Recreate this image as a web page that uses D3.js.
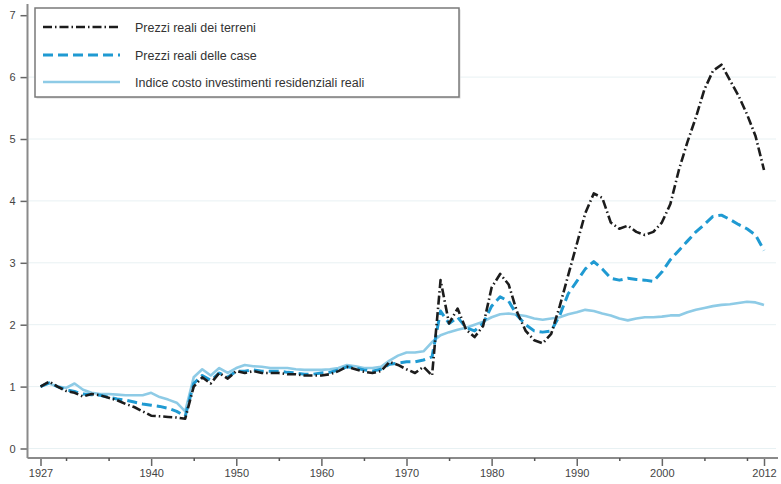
<!DOCTYPE html>
<html>
<head>
<meta charset="utf-8">
<script src="https://cdn.jsdelivr.net/npm/d3@7"></script>
<style>
  body { margin: 0; background: #fff; }
  svg { display: block; font-family: "Liberation Sans", Arial, sans-serif; }
</style>
</head>
<body>
<div id="chart"></div>
<script>
// Years 1927-2012, one value per year
const years = d3.range(1927, 2013);

// Prezzi reali dei terreni
const landPrices = [
  1.00, 1.08, 1.00, 0.93, 0.90, 0.84, 0.88, 0.86, 0.82, 0.78,
  0.72, 0.67, 0.60, 0.53, 0.52, 0.51, 0.50, 0.48, 1.00, 1.15,
  1.05, 1.22, 1.13, 1.25, 1.22, 1.25, 1.22, 1.22, 1.22, 1.20,
  1.20, 1.18, 1.18, 1.18, 1.20, 1.25, 1.32, 1.28, 1.24, 1.22,
  1.25, 1.40, 1.35, 1.28, 1.22, 1.32, 1.18, 2.72, 2.02, 2.26,
  1.92, 1.80, 1.98, 2.60, 2.82, 2.65, 2.20, 1.90, 1.75, 1.70,
  1.85, 2.30, 2.80, 3.30, 3.80, 4.12, 4.05, 3.65, 3.55, 3.60,
  3.50, 3.45, 3.50, 3.65, 3.95, 4.50, 4.95, 5.35, 5.80, 6.10,
  6.20, 5.95, 5.70, 5.40, 5.05, 4.50
];

// Prezzi reali delle case
const housePrices = [
  1.00, 1.06, 1.00, 0.95, 0.92, 0.88, 0.87, 0.86, 0.83, 0.80,
  0.78, 0.75, 0.72, 0.70, 0.68, 0.65, 0.60, 0.52, 1.05, 1.18,
  1.10, 1.22, 1.15, 1.25, 1.25, 1.27, 1.25, 1.25, 1.25, 1.23,
  1.22, 1.20, 1.20, 1.22, 1.23, 1.27, 1.32, 1.30, 1.27, 1.25,
  1.28, 1.36, 1.38, 1.40, 1.40, 1.43, 1.48, 2.22, 2.02, 2.12,
  1.95, 1.90, 2.02, 2.30, 2.45, 2.38, 2.15, 2.00, 1.90, 1.88,
  1.90, 2.15, 2.50, 2.70, 2.90, 3.02, 2.90, 2.75, 2.72, 2.75,
  2.73, 2.72, 2.70, 2.85, 3.05, 3.20, 3.35, 3.50, 3.62, 3.75,
  3.77, 3.70, 3.62, 3.55, 3.45, 3.20
];

// Indice costo investimenti residenziali reali
const costIndex = [
  1.00, 1.05, 1.00, 0.98, 1.05, 0.95, 0.90, 0.88, 0.88, 0.87,
  0.86, 0.86, 0.86, 0.90, 0.83, 0.79, 0.74, 0.60, 1.15, 1.28,
  1.18, 1.30, 1.22, 1.30, 1.35, 1.33, 1.32, 1.30, 1.30, 1.30,
  1.28, 1.27, 1.27, 1.27, 1.28, 1.30, 1.35, 1.33, 1.30, 1.30,
  1.32, 1.42, 1.50, 1.55, 1.55, 1.57, 1.72, 1.83, 1.88, 1.92,
  1.95, 2.00, 2.05, 2.12, 2.17, 2.18, 2.16, 2.14, 2.10, 2.08,
  2.10, 2.12, 2.17, 2.20, 2.24, 2.22, 2.18, 2.15, 2.10, 2.07,
  2.10, 2.12, 2.12, 2.13, 2.15, 2.15, 2.20, 2.24, 2.27, 2.30,
  2.32, 2.33, 2.35, 2.37, 2.36, 2.32
];

const seriesNames = [
  'Prezzi reali dei terreni',
  'Prezzi reali delle case',
  'Indice costo investimenti residenziali reali'
];

const majorTicks = [1927, 1940, 1950, 1960, 1970, 1980, 1990, 2000, 2012];
const minorTicks = [1930, 1935, 1945, 1955, 1965, 1975, 1985, 1995, 2005, 2010];
const yTicks = [0, 1, 2, 3, 4, 5, 6, 7];

const width = 781;
const height = 484;

const svg = d3.select('#chart')
  .append('svg')
  .attr('width', width)
  .attr('height', height);

const x = d3.scaleLinear().domain([1927, 2012]).range([40.5, 764]);
const y = d3.scaleLinear().domain([0, 7]).range([448.5, 15.2]);

const axisColor = '#8a8a8a';
const baseY = 458;
const axisX = 27.5;

// Faint grid lines
svg.append('g')
  .selectAll('line')
  .data(yTicks.filter(d => d < 7))
  .enter()
  .append('line')
  .attr('x1', axisX + 1)
  .attr('x2', 776)
  .attr('y1', d => y(d))
  .attr('y2', d => y(d))
  .attr('stroke', '#e8f1f3')
  .attr('stroke-width', 1);

// Y axis
const yAxis = svg.append('g')
  .attr('transform', `translate(${axisX},0)`)
  .call(d3.axisLeft(y).tickValues(yTicks).tickSize(7).tickPadding(5).tickFormat(d3.format('d')));
yAxis.select('.domain').remove();
yAxis.append('line')
  .attr('x1', 0).attr('x2', 0)
  .attr('y1', 4).attr('y2', baseY)
  .attr('stroke', axisColor)
  .attr('stroke-width', 2);

// X axis
const xAxis = svg.append('g')
  .attr('transform', `translate(0,${baseY})`)
  .call(d3.axisBottom(x).tickValues(majorTicks).tickSize(8).tickPadding(3).tickFormat(d3.format('d')));
xAxis.select('.domain').remove();
xAxis.append('line')
  .attr('x1', axisX).attr('x2', 778)
  .attr('y1', 0).attr('y2', 0)
  .attr('stroke', axisColor)
  .attr('stroke-width', 2);
svg.append('g')
  .attr('transform', `translate(0,${baseY})`)
  .call(d3.axisBottom(x).tickValues(minorTicks).tickSize(3).tickFormat(''))
  .call(g => g.select('.domain').remove())
  .selectAll('line')
  .attr('stroke', '#555')
  .attr('stroke-width', 1.5);

[yAxis, xAxis].forEach(g => {
  g.selectAll('.tick line').attr('stroke', '#666').attr('stroke-width', 1.5);
  g.selectAll('.tick text')
    .attr('fill', '#444')
    .attr('font-size', '11px')
    .attr('font-family', '"Liberation Sans", Arial, sans-serif');
});

// Series lines
const series = [
  { name: seriesNames[0], values: landPrices, color: '#1c1c1c', width: 2.6, dash: '9,3,1.5,3' },
  { name: seriesNames[1], values: housePrices, color: '#1f9ad2', width: 3, dash: '10,5' },
  { name: seriesNames[2], values: costIndex, color: '#8ecbe6', width: 2.6, dash: null }
];

const line = d3.line()
  .x((d, i) => x(years[i]))
  .y(d => y(d));

// draw in back-to-front order: index, houses, land
series.slice().reverse().forEach(s => {
  svg.append('path')
    .datum(s.values)
    .attr('d', line)
    .attr('fill', 'none')
    .attr('stroke', s.color)
    .attr('stroke-width', s.width)
    .attr('stroke-dasharray', s.dash)
    .attr('stroke-linejoin', 'round');
});

// Legend
const legend = svg.append('g');
legend.append('rect')
  .attr('x', 36.5).attr('y', 9.5)
  .attr('width', 424).attr('height', 89)
  .attr('fill', '#d8d8d8');
legend.append('rect')
  .attr('x', 35).attr('y', 8)
  .attr('width', 424).attr('height', 89)
  .attr('fill', '#fff')
  .attr('stroke', '#7a7a7a')
  .attr('stroke-width', 1.5);

const rowY = [27, 55, 82];
series.forEach((s, i) => {
  legend.append('line')
    .attr('x1', 43).attr('x2', 120)
    .attr('y1', rowY[i]).attr('y2', rowY[i])
    .attr('stroke', s.color)
    .attr('stroke-width', s.width)
    .attr('stroke-dasharray', s.dash);
  legend.append('text')
    .attr('x', 135)
    .attr('y', rowY[i] + 4.5)
    .attr('fill', '#333')
    .attr('font-size', '12.5px')
    .text(s.name);
});
</script>
</body>
</html>
